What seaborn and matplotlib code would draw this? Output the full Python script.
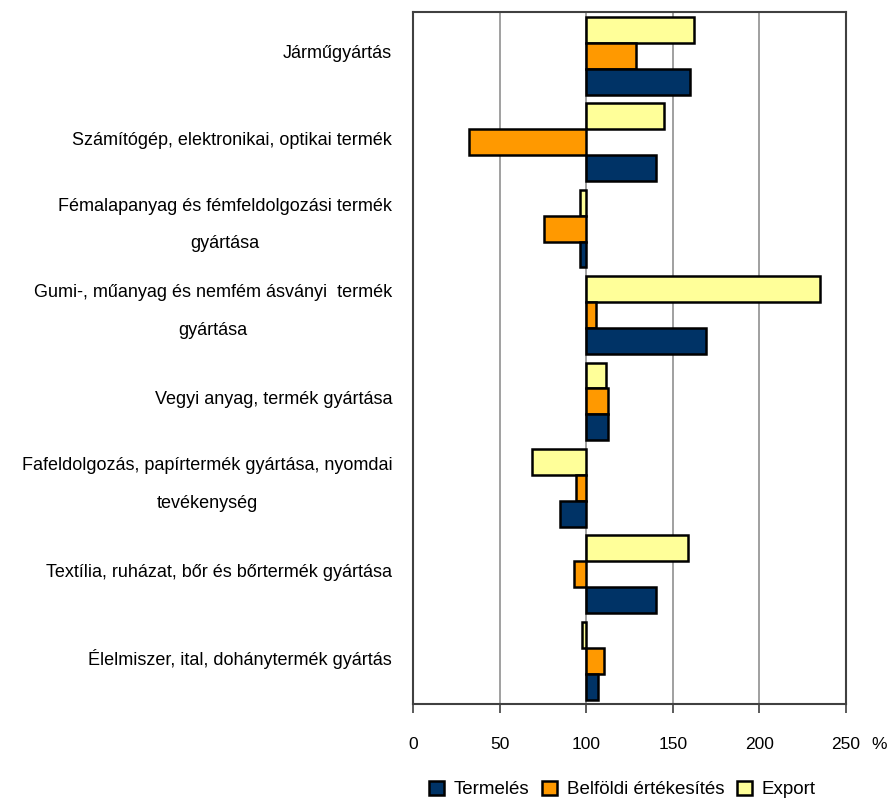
import numpy as np
import pandas as pd
import matplotlib
matplotlib.use('Agg')
import matplotlib.pyplot as plt
import matplotlib.ticker as mticker
import matplotlib.transforms as mtransforms
import seaborn as sns

# ─────────────────────────────────────
# DATA (index, 100 = base)
# ─────────────────────────────────────
categories = [
    'Járműgyártás',
    'Számítógép, elektronikai, optikai termék',
    'Fémalapanyag és fémfeldolgozási termék\ngyártása',
    'Gumi-, műanyag és nemfém ásványi  termék\ngyártása',
    'Vegyi anyag, termék gyártása',
    'Fafeldolgozás, papírtermék gyártása, nyomdai\ntevékenység',
    'Textília, ruházat, bőr és bőrtermék gyártása',
    'Élelmiszer, ital, dohánytermék gyártás',
]
termeles = [160.0, 140.3, 96.2, 169.2, 112.6, 84.8, 140.5, 106.8]
belfoldi = [128.5, 32.6, 75.5, 105.6, 112.4, 94.0, 92.7, 110.2]
export   = [162.1, 144.9, 96.4, 234.9, 111.2, 68.6, 158.8, 97.3]

series_names = ['Termelés', 'Belföldi értékesítés', 'Export']
series_colors = ['#003366', '#FF9900', '#FFFF99']
base = 100

df = pd.DataFrame({
    'Ágazat': categories * 3,
    'Mutató': np.repeat(series_names, len(categories)),
    'Érték': termeles + belfoldi + export,
})
df['Eltérés'] = df['Érték'] - base

# ─────────────────────────────────────
# PLOT
# ─────────────────────────────────────
sns.set_theme(style='white')
plt.rcParams['font.family'] = ['Liberation Sans', 'DejaVu Sans']
plt.rcParams['text.color'] = 'black'
plt.rcParams['xtick.color'] = 'black'
plt.rcParams['ytick.color'] = 'black'

fig = plt.figure(figsize=(8.89, 8.0), dpi=100)
ax = fig.add_axes([0.4646, 0.12, 0.4870, 0.8644])

palette = dict(zip(series_names, series_colors))
sns.barplot(data=df, y='Ágazat', x='Eltérés', hue='Mutató',
            hue_order=series_names[::-1], order=categories,
            palette=palette, orient='h', width=0.9, saturation=1,
            errorbar=None, edgecolor='black', linewidth=1.8, ax=ax)

ax.set_xlim(-100, 150)
ax.xaxis.set_major_locator(mticker.FixedLocator(np.arange(-100, 151, 50)))
ax.xaxis.set_major_formatter(mticker.FuncFormatter(lambda v, p: f'{v + base:.0f}'))
ax.grid(axis='x', color='#999999', linewidth=1.3)
ax.grid(axis='y', visible=False)
ax.set_axisbelow(True)
ax.set_xlabel('')
ax.set_ylabel('')

for s in ax.spines.values():
    s.set_color('#404040')
    s.set_linewidth(1.5)
    s.set_visible(True)

ax.tick_params(axis='x', direction='out', length=6.5, width=1.2, color='#404040',
               pad=17, labelsize=12.5, bottom=True, labelcolor='black')
ax.tick_params(axis='y', length=0, pad=15, labelsize=13, labelcolor='black')
for lab in ax.get_yticklabels():
    lab.set_multialignment('center')
    lab.set_linespacing(2.6)
    dy = 0.16 if '\n' in lab.get_text() else 0.04
    shift = mtransforms.ScaledTranslation(0, dy, fig.dpi_scale_trans)
    lab.set_transform(lab.get_transform() + shift)

fig.text(0.989, 0.069, '%', ha='center', va='center', fontsize=12.5, color='black')

handles, labels = ax.get_legend_handles_labels()
ax.get_legend().remove()
fig.legend(handles[::-1], labels[::-1], loc='center', bbox_to_anchor=(0.7, 0.013),
           ncol=3, frameon=False, fontsize=13.5, handlelength=0.8, handleheight=0.8,
           handletextpad=0.5, columnspacing=0.7)

plt.savefig('out.png', dpi=100)
plt.close()
